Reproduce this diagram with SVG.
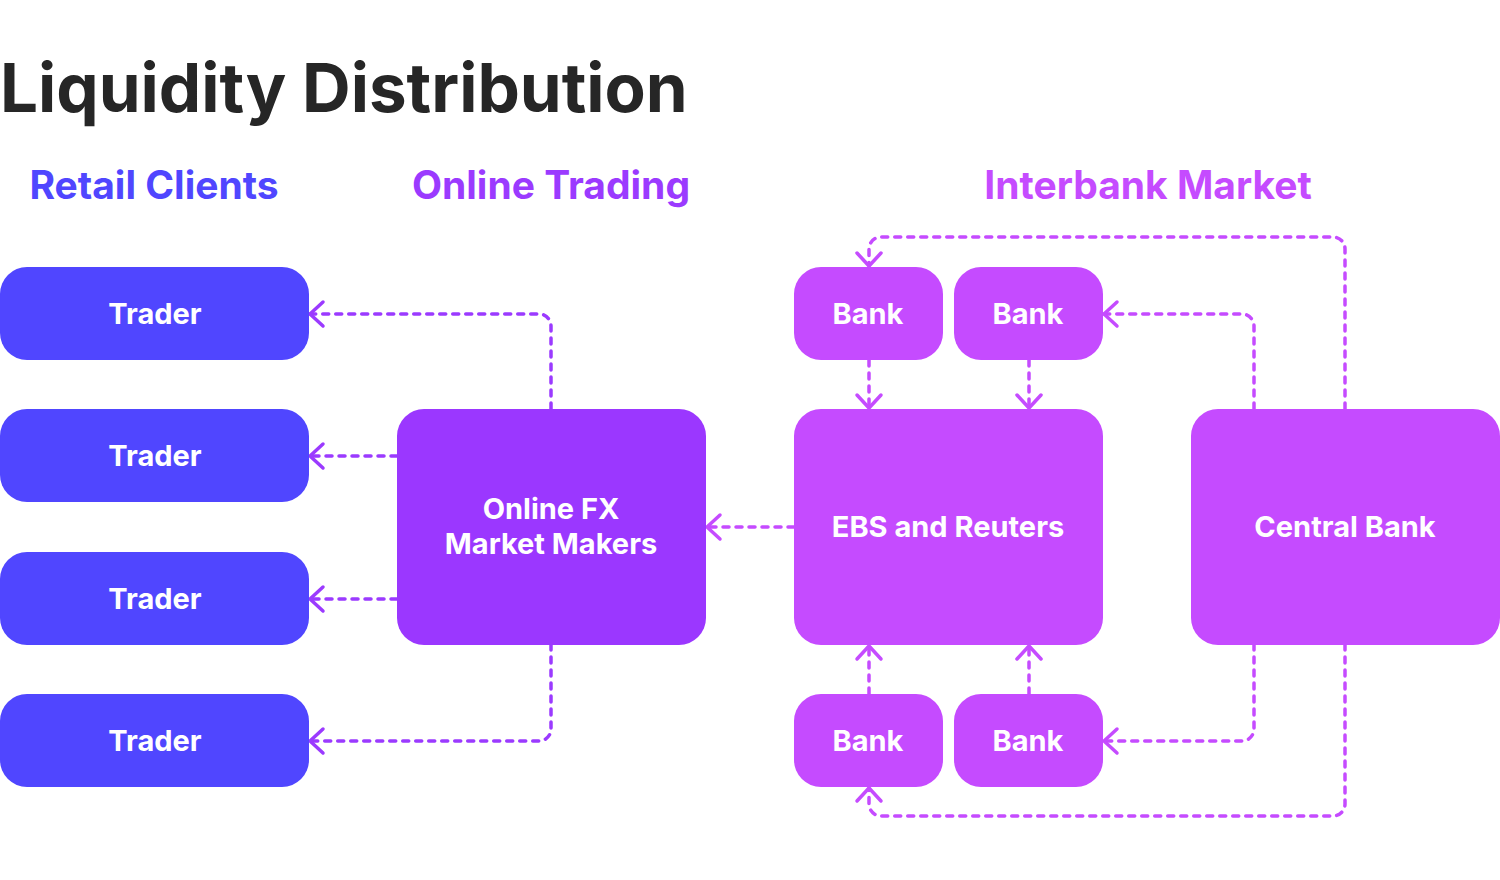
<svg xmlns="http://www.w3.org/2000/svg" width="1500" height="880" viewBox="0 0 1500 880">
<defs>
<style>
.title{font-family:Inter,"Liberation Sans",sans-serif;font-weight:700;font-size:67.3px;fill:#262626}
.hdr{font-family:Inter,"Liberation Sans",sans-serif;font-weight:700;font-size:39px;text-anchor:middle}
.lbl{font-family:Inter,"Liberation Sans",sans-serif;font-weight:700;font-size:29px;fill:#ffffff;text-anchor:middle}
.trader{fill:#5046FF}
.fx{fill:#9B37FF}
.ib{fill:#C54BFF}
.conn{fill:none;stroke-width:3.5;stroke-dasharray:6 7;stroke-linecap:round;stroke-linejoin:round}
.c1{stroke:#9B3AFF;marker-end:url(#a1)}
.c2{stroke:#C54BFF;marker-end:url(#a2)}
</style>
<marker id="a1" markerUnits="userSpaceOnUse" viewBox="-18 -16 22 32" markerWidth="22" markerHeight="32" refX="0" refY="0" orient="auto">
<path d="M-13,-12 L0,0 L-13,12" fill="none" stroke="#9B3AFF" stroke-width="3.5" stroke-linecap="round" stroke-linejoin="round"/>
</marker>
<marker id="a2" markerUnits="userSpaceOnUse" viewBox="-18 -16 22 32" markerWidth="22" markerHeight="32" refX="0" refY="0" orient="auto">
<path d="M-13,-12 L0,0 L-13,12" fill="none" stroke="#C54BFF" stroke-width="3.5" stroke-linecap="round" stroke-linejoin="round"/>
</marker>
</defs>
<rect width="1500" height="880" fill="#ffffff"/>
<text class="title" x="0" y="112">Liquidity Distribution</text>
<text class="hdr" x="154" y="199" fill="#5046FF">Retail Clients</text>
<text class="hdr" x="551" y="199" fill="#9B3AFF">Online Trading</text>
<text class="hdr" x="1148" y="199" fill="#C54BFF">Interbank Market</text>

<g id="connectors">
<path class="conn c1" d="M551,409 V326 A12,12 0 0 0 539,314 H310"/>
<path class="conn c1" d="M397,456 H310"/>
<path class="conn c1" d="M397,599 H310"/>
<path class="conn c1" d="M551,644 V729 A12,12 0 0 1 539,741 H310"/>
<path class="conn c2" d="M794,527 H707"/>
<path class="conn c2" d="M869,360 V408"/>
<path class="conn c2" d="M1029,360 V408"/>
<path class="conn c2" d="M869,694 V646"/>
<path class="conn c2" d="M1029,694 V646"/>
<path class="conn c2" d="M1254,409 V326 A12,12 0 0 0 1242,314 H1104"/>
<path class="conn c2" d="M1345,409 V249 A12,12 0 0 0 1333,237 H881 A12,12 0 0 0 869,249 V266"/>
<path class="conn c2" d="M1254,644 V729 A12,12 0 0 1 1242,741 H1104"/>
<path class="conn c2" d="M1345,644 V804 A12,12 0 0 1 1333,816 H881 A12,12 0 0 1 869,804 V788"/>
</g>

<g id="trader1"><rect class="trader" x="0" y="267" width="309" height="93" rx="27"/><text class="lbl" x="155" y="324">Trader</text></g>
<g id="trader2"><rect class="trader" x="0" y="409" width="309" height="93" rx="27"/><text class="lbl" x="155" y="466">Trader</text></g>
<g id="trader3"><rect class="trader" x="0" y="552" width="309" height="93" rx="27"/><text class="lbl" x="155" y="609">Trader</text></g>
<g id="trader4"><rect class="trader" x="0" y="694" width="309" height="93" rx="27"/><text class="lbl" x="155" y="751">Trader</text></g>

<g id="online-fx"><rect class="fx" x="397" y="409" width="309" height="236" rx="27"/><text class="lbl" x="551" y="519">Online FX</text><text class="lbl" x="551" y="554">Market Makers</text></g>

<g id="ebs"><rect class="ib" x="794" y="409" width="309" height="236" rx="27"/><text class="lbl" x="948" y="537">EBS and Reuters</text></g>
<g id="central-bank"><rect class="ib" x="1191" y="409" width="309" height="236" rx="27"/><text class="lbl" x="1345" y="537">Central Bank</text></g>

<g id="bank1"><rect class="ib" x="794" y="267" width="149" height="93" rx="27"/><text class="lbl" x="868" y="324">Bank</text></g>
<g id="bank2"><rect class="ib" x="954" y="267" width="149" height="93" rx="27"/><text class="lbl" x="1028" y="324">Bank</text></g>
<g id="bank3"><rect class="ib" x="794" y="694" width="149" height="93" rx="27"/><text class="lbl" x="868" y="751">Bank</text></g>
<g id="bank4"><rect class="ib" x="954" y="694" width="149" height="93" rx="27"/><text class="lbl" x="1028" y="751">Bank</text></g>
</svg>
